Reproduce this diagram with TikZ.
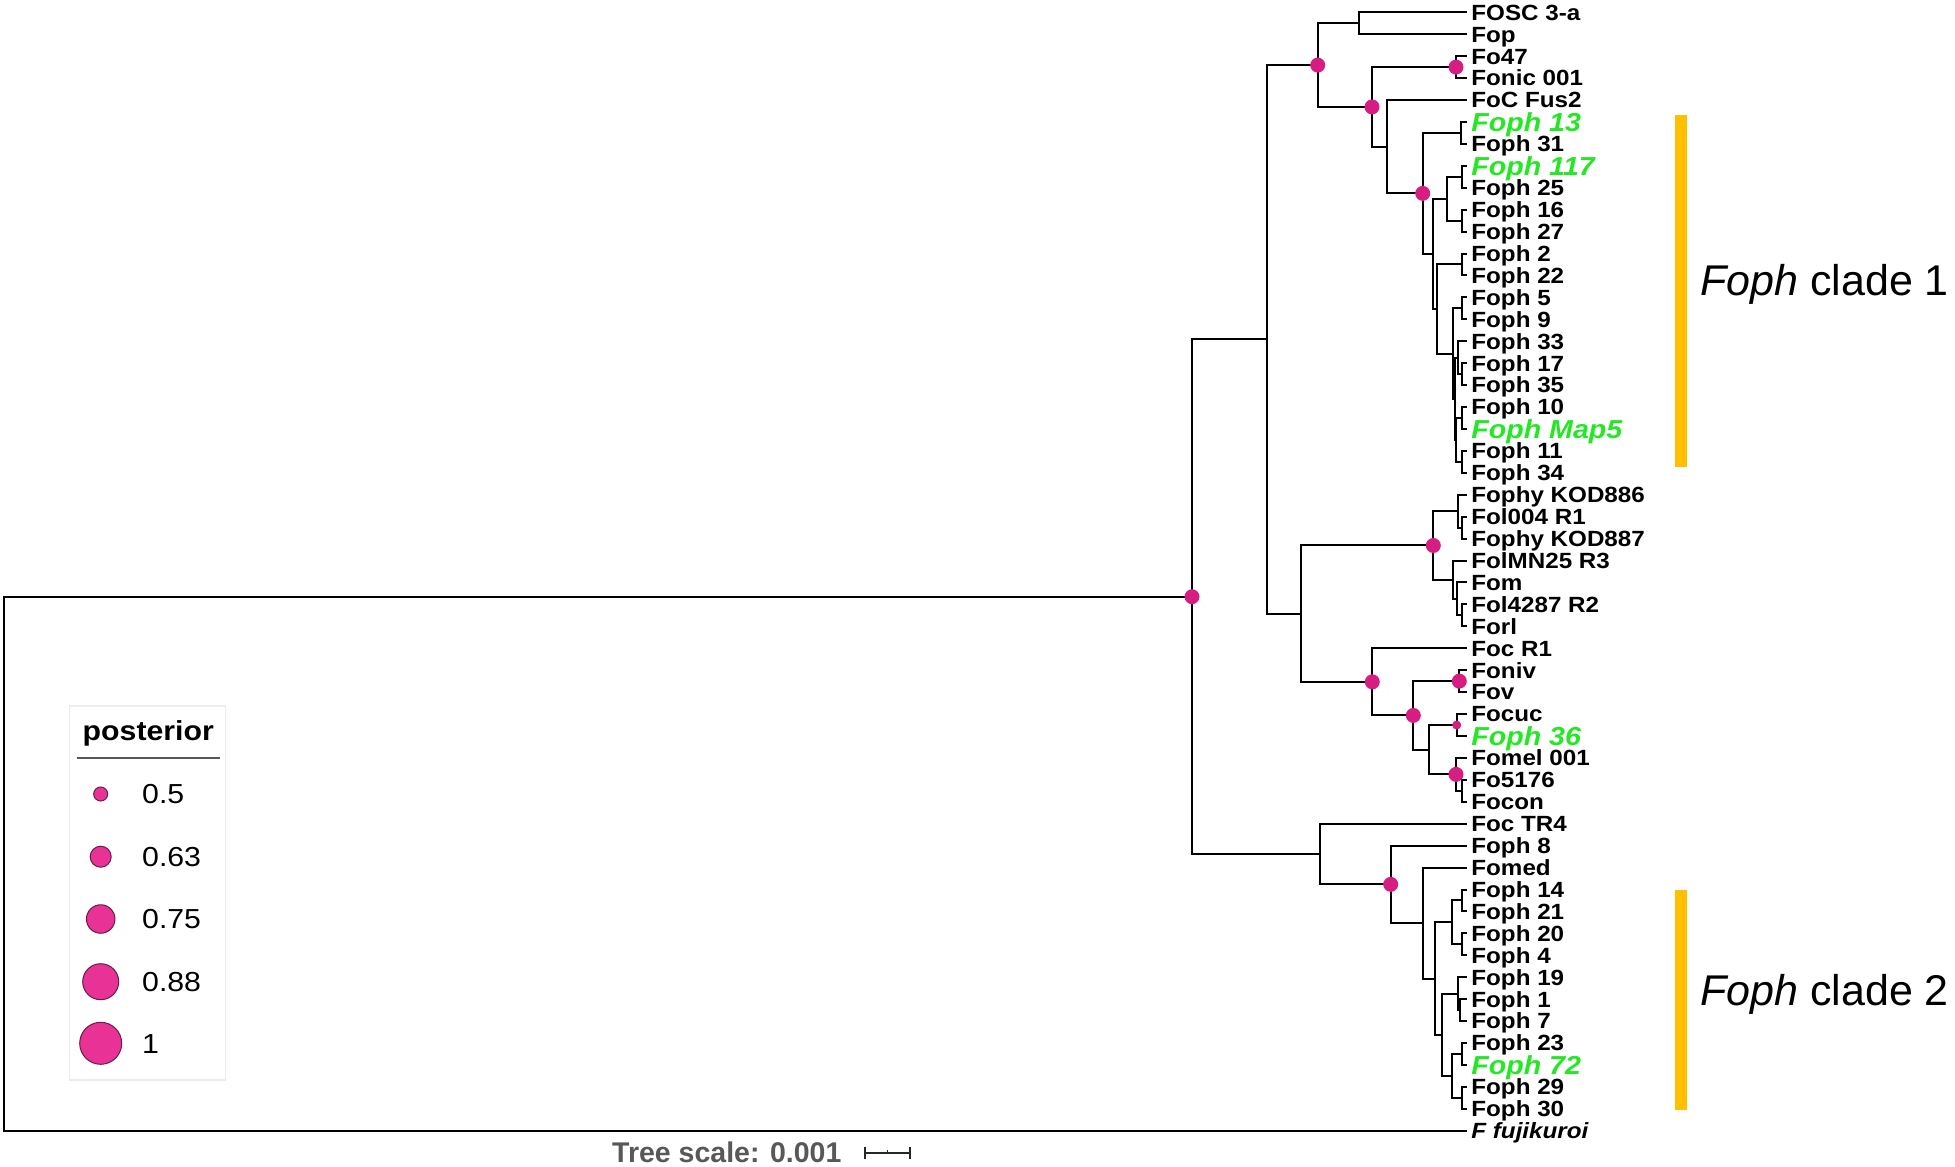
\documentclass[tikz,border=0pt]{standalone}
\usepackage{fontspec}
\setmainfont{Liberation Sans}
\newfontfamily\labfont[FakeStretch=1.1]{Liberation Sans}
\definecolor{dotc}{RGB}{214,30,130}
\definecolor{legfill}{RGB}{232,50,150}
\definecolor{legdraw}{RGB}{105,28,72}
\definecolor{gfgreen}{RGB}{36,232,36}
\definecolor{cladec}{RGB}{255,192,0}
\definecolor{scgray}{RGB}{88,88,88}
\newcommand\lfy[1]{12.3+21.93*(#1)}
\begin{document}
\begin{tikzpicture}[x=1pt,y=-1pt,
  edge/.style={line width=2pt,black},
  leaf/.style={anchor=west,inner xsep=4.5pt,inner ysep=0pt,text height=15.7pt,text depth=0pt,
    font=\labfont\bfseries\fontsize{22}{24}\selectfont},
  leafg/.style={leaf,text=gfgreen,text height=18.6pt,font=\labfont\bfseries\itshape\fontsize{26}{28}\selectfont},
  leafi/.style={leaf,font=\labfont\bfseries\itshape\fontsize{22}{24}\selectfont},
  dot/.style={circle,fill=dotc,inner sep=0pt,minimum size=15pt},
  sdot/.style={dot,minimum size=9pt},
  lcirc/.style={circle,fill=legfill,draw=legdraw,line width=1pt,inner sep=0pt},
  legt/.style={anchor=west,inner sep=0pt,text height=19.7pt,text depth=0pt,font=\labfont\fontsize{27.5}{30}\selectfont},
  cladebar/.style={fill=cladec,draw=none},
  cladet/.style={anchor=base west,inner sep=0pt,font=\fontsize{43}{48}\selectfont}]
\useasboundingbox (0,0) rectangle (1955,1167);

% ---------- leaves ----------
\node[leaf]  (L0)  at (1466.7,{\lfy{0}})  {FOSC 3-a};
\node[leaf]  (L1)  at (1466.7,{\lfy{1}})  {Fop};
\node[leaf]  (L2)  at (1466.7,{\lfy{2}})  {Fo47};
\node[leaf]  (L3)  at (1466.7,{\lfy{3}})  {Fonic 001};
\node[leaf]  (L4)  at (1466.7,{\lfy{4}})  {FoC Fus2};
\node[leafg] (L5)  at (1466.7,{\lfy{5}})  {Foph 13};
\node[leaf]  (L6)  at (1466.7,{\lfy{6}})  {Foph 31};
\node[leafg] (L7)  at (1466.7,{\lfy{7}})  {Foph 117};
\node[leaf]  (L8)  at (1466.7,{\lfy{8}})  {Foph 25};
\node[leaf]  (L9)  at (1466.7,{\lfy{9}})  {Foph 16};
\node[leaf]  (L10) at (1466.7,{\lfy{10}}) {Foph 27};
\node[leaf]  (L11) at (1466.7,{\lfy{11}}) {Foph 2};
\node[leaf]  (L12) at (1466.7,{\lfy{12}}) {Foph 22};
\node[leaf]  (L13) at (1466.7,{\lfy{13}}) {Foph 5};
\node[leaf]  (L14) at (1466.7,{\lfy{14}}) {Foph 9};
\node[leaf]  (L15) at (1466.7,{\lfy{15}}) {Foph 33};
\node[leaf]  (L16) at (1466.7,{\lfy{16}}) {Foph 17};
\node[leaf]  (L17) at (1466.7,{\lfy{17}}) {Foph 35};
\node[leaf]  (L18) at (1466.7,{\lfy{18}}) {Foph 10};
\node[leafg] (L19) at (1466.7,{\lfy{19}}) {Foph Map5};
\node[leaf]  (L20) at (1466.7,{\lfy{20}}) {Foph 11};
\node[leaf]  (L21) at (1466.7,{\lfy{21}}) {Foph 34};
\node[leaf]  (L22) at (1466.7,{\lfy{22}}) {Fophy KOD886};
\node[leaf]  (L23) at (1466.7,{\lfy{23}}) {Fol004 R1};
\node[leaf]  (L24) at (1466.7,{\lfy{24}}) {Fophy KOD887};
\node[leaf]  (L25) at (1466.7,{\lfy{25}}) {FolMN25 R3};
\node[leaf]  (L26) at (1466.7,{\lfy{26}}) {Fom};
\node[leaf]  (L27) at (1466.7,{\lfy{27}}) {Fol4287 R2};
\node[leaf]  (L28) at (1466.7,{\lfy{28}}) {Forl};
\node[leaf]  (L29) at (1466.7,{\lfy{29}}) {Foc R1};
\node[leaf]  (L30) at (1466.7,{\lfy{30}}) {Foniv};
\node[leaf]  (L31) at (1466.7,{\lfy{31}}) {Fov};
\node[leaf]  (L32) at (1466.7,{\lfy{32}}) {Focuc};
\node[leafg] (L33) at (1466.7,{\lfy{33}}) {Foph 36};
\node[leaf]  (L34) at (1466.7,{\lfy{34}}) {Fomel 001};
\node[leaf]  (L35) at (1466.7,{\lfy{35}}) {Fo5176};
\node[leaf]  (L36) at (1466.7,{\lfy{36}}) {Focon};
\node[leaf]  (L37) at (1466.7,{\lfy{37}}) {Foc TR4};
\node[leaf]  (L38) at (1466.7,{\lfy{38}}) {Foph 8};
\node[leaf]  (L39) at (1466.7,{\lfy{39}}) {Fomed};
\node[leaf]  (L40) at (1466.7,{\lfy{40}}) {Foph 14};
\node[leaf]  (L41) at (1466.7,{\lfy{41}}) {Foph 21};
\node[leaf]  (L42) at (1466.7,{\lfy{42}}) {Foph 20};
\node[leaf]  (L43) at (1466.7,{\lfy{43}}) {Foph 4};
\node[leaf]  (L44) at (1466.7,{\lfy{44}}) {Foph 19};
\node[leaf]  (L45) at (1466.7,{\lfy{45}}) {Foph 1};
\node[leaf]  (L46) at (1466.7,{\lfy{46}}) {Foph 7};
\node[leaf]  (L47) at (1466.7,{\lfy{47}}) {Foph 23};
\node[leafg] (L48) at (1466.7,{\lfy{48}}) {Foph 72};
\node[leaf]  (L49) at (1466.7,{\lfy{49}}) {Foph 29};
\node[leaf]  (L50) at (1466.7,{\lfy{50}}) {Foph 30};
\node[leafi] (L51) at (1466.7,{\lfy{51}}) {F fujikuroi};

% ---------- internal nodes ----------
\coordinate (nA)  at (1359,  {\lfy{0.5}});
\coordinate (nB)  at (1456,  {\lfy{2.5}});
\coordinate (nC)  at (1460.7,{\lfy{5.5}});
\coordinate (nD)  at (1461.7,{\lfy{7.5}});
\coordinate (nE)  at (1461.7,{\lfy{9.5}});
\coordinate (nF)  at (1447.3,{\lfy{8.5}});
\coordinate (nG)  at (1461.7,{\lfy{11.5}});
\coordinate (nH)  at (1461.7,{\lfy{13.5}});
\coordinate (nI)  at (1461.7,{\lfy{16.5}});
\coordinate (nJ)  at (1458.3,{\lfy{15.75}});
\coordinate (nK)  at (1461.7,{\lfy{18.5}});
\coordinate (nL)  at (1461.7,{\lfy{20.5}});
\coordinate (nM)  at (1456,  {\lfy{19.5}});
\coordinate (nN)  at (1454.5,{\lfy{17.625}});
\coordinate (nO)  at (1453.3,{\lfy{15.5625}});
\coordinate (nP)  at (1437.3,{\lfy{13.53125}});
\coordinate (nQ)  at (1432.7,{\lfy{11.015625}});
\coordinate (nR)  at (1422.7,{\lfy{8.2578}});
\coordinate (nS)  at (1386.7,{\lfy{6.1289}});
\coordinate (nT)  at (1372,  {\lfy{4.3145}});
\coordinate (nU)  at (1317.7,{\lfy{2.4072}});
\coordinate (nV)  at (1461.7,{\lfy{23.5}});
\coordinate (nW)  at (1458.3,{\lfy{22.75}});
\coordinate (nX)  at (1461.7,{\lfy{27.5}});
\coordinate (nY)  at (1456.7,{\lfy{26.75}});
\coordinate (nZ)  at (1453.3,{\lfy{25.875}});
\coordinate (nAA) at (1433.3,{\lfy{24.3125}});
\coordinate (nAB) at (1459.3,{\lfy{30.5}});
\coordinate (nAC) at (1456.7,{\lfy{32.5}});
\coordinate (nAD) at (1461.7,{\lfy{35.5}});
\coordinate (nAE) at (1456,  {\lfy{34.75}});
\coordinate (nAF) at (1429.3,{\lfy{33.625}});
\coordinate (nAG) at (1413.3,{\lfy{32.0625}});
\coordinate (nAH) at (1372.3,{\lfy{30.53125}});
\coordinate (nAI) at (1301,  {\lfy{27.421875}});
\coordinate (nAJ) at (1266.7,{\lfy{14.9145}});
\coordinate (nAK) at (1461.7,{\lfy{40.5}});
\coordinate (nAL) at (1461.7,{\lfy{42.5}});
\coordinate (nAM) at (1451.7,{\lfy{41.5}});
\coordinate (nAN) at (1460,  {\lfy{45.5}});
\coordinate (nAO) at (1458.3,{\lfy{44.75}});
\coordinate (nAP) at (1461.7,{\lfy{47.5}});
\coordinate (nAQ) at (1461.7,{\lfy{49.5}});
\coordinate (nAR) at (1452.3,{\lfy{48.5}});
\coordinate (nAS) at (1442.3,{\lfy{46.625}});
\coordinate (nAT) at (1435,  {\lfy{44.0625}});
\coordinate (nAU) at (1423.3,{\lfy{41.53125}});
\coordinate (nAV) at (1390.7,{\lfy{39.765625}});
\coordinate (nAW) at (1320,  {\lfy{38.3828}});
\coordinate (nRt) at (1192,  {\lfy{26.6487}});
\coordinate (nOut) at (3.5,  {\lfy{38.82}});

% ---------- edges ----------
\draw[edge] (nA) |- (L0.west) (nA) |- (L1.west);
\draw[edge] (nB) |- (L2.west) (nB) |- (L3.west);
\draw[edge] (nC) |- (L5.west) (nC) |- (L6.west);
\draw[edge] (nD) |- (L7.west) (nD) |- (L8.west);
\draw[edge] (nE) |- (L9.west) (nE) |- (L10.west);
\draw[edge] (nF) |- (nD) (nF) |- (nE);
\draw[edge] (nG) |- (L11.west) (nG) |- (L12.west);
\draw[edge] (nH) |- (L13.west) (nH) |- (L14.west);
\draw[edge] (nI) |- (L16.west) (nI) |- (L17.west);
\draw[edge] (nJ) |- (L15.west) (nJ) |- (nI);
\draw[edge] (nK) |- (L18.west) (nK) |- (L19.west);
\draw[edge] (nL) |- (L20.west) (nL) |- (L21.west);
\draw[edge] (nM) |- (nK) (nM) |- (nL);
\draw[edge] (nN) |- (nJ) (nN) |- (nM);
\draw[edge] (nO) |- (nH) (nO) |- (nN);
\draw[edge] (nP) |- (nG) (nP) |- (nO);
\draw[edge] (nQ) |- (nF) (nQ) |- (nP);
\draw[edge] (nR) |- (nC) (nR) |- (nQ);
\draw[edge] (nS) |- (L4.west) (nS) |- (nR);
\draw[edge] (nT) |- (nB) (nT) |- (nS);
\draw[edge] (nU) |- (nA) (nU) |- (nT);
\draw[edge] (nV) |- (L23.west) (nV) |- (L24.west);
\draw[edge] (nW) |- (L22.west) (nW) |- (nV);
\draw[edge] (nX) |- (L27.west) (nX) |- (L28.west);
\draw[edge] (nY) |- (L26.west) (nY) |- (nX);
\draw[edge] (nZ) |- (L25.west) (nZ) |- (nY);
\draw[edge] (nAA) |- (nW) (nAA) |- (nZ);
\draw[edge] (nAB) |- (L30.west) (nAB) |- (L31.west);
\draw[edge] (nAC) |- (L32.west) (nAC) |- (L33.west);
\draw[edge] (nAD) |- (L35.west) (nAD) |- (L36.west);
\draw[edge] (nAE) |- (L34.west) (nAE) |- (nAD);
\draw[edge] (nAF) |- (nAC) (nAF) |- (nAE);
\draw[edge] (nAG) |- (nAB) (nAG) |- (nAF);
\draw[edge] (nAH) |- (L29.west) (nAH) |- (nAG);
\draw[edge] (nAI) |- (nAA) (nAI) |- (nAH);
\draw[edge] (nAJ) |- (nU) (nAJ) |- (nAI);
\draw[edge] (nAK) |- (L40.west) (nAK) |- (L41.west);
\draw[edge] (nAL) |- (L42.west) (nAL) |- (L43.west);
\draw[edge] (nAM) |- (nAK) (nAM) |- (nAL);
\draw[edge] (nAN) |- (L45.west) (nAN) |- (L46.west);
\draw[edge] (nAO) |- (L44.west) (nAO) |- (nAN);
\draw[edge] (nAP) |- (L47.west) (nAP) |- (L48.west);
\draw[edge] (nAQ) |- (L49.west) (nAQ) |- (L50.west);
\draw[edge] (nAR) |- (nAP) (nAR) |- (nAQ);
\draw[edge] (nAS) |- (nAO) (nAS) |- (nAR);
\draw[edge] (nAT) |- (nAM) (nAT) |- (nAS);
\draw[edge] (nAU) |- (L39.west) (nAU) |- (nAT);
\draw[edge] (nAV) |- (L38.west) (nAV) |- (nAU);
\draw[edge] (nAW) |- (L37.west) (nAW) |- (nAV);
\draw[edge] (nRt) |- (nAJ) (nRt) |- (nAW);
\draw[edge] (nOut) |- (nRt) (nOut) |- (L51.west);

% ---------- posterior dots ----------
\node[dot]  (dU)  at (nU)  {};
\node[dot]  (dB)  at (nB)  {};
\node[dot]  (dT)  at (nT)  {};
\node[dot]  (dR)  at (nR)  {};
\node[dot]  (dAA) at (nAA) {};
\node[dot]  (dAH) at (nAH) {};
\node[dot]  (dAB) at (nAB) {};
\node[dot]  (dAG) at (nAG) {};
\node[sdot] (dAC) at (nAC) {};
\node[dot]  (dAE) at (nAE) {};
\node[dot]  (dAV) at (nAV) {};
\node[dot]  (dRt) at (nRt) {};

% ---------- clade bars ----------
\path[cladebar] (1675,115) rectangle (1687,467);
\path[cladebar] (1675,890) rectangle (1687,1110);
\node[cladet] (cl1) at (1700,295)  {\textit{Foph} clade 1};
\node[cladet] (cl2) at (1700,1005) {\textit{Foph} clade 2};

% ---------- legend ----------
\node[draw={rgb,255:red,236;green,236;blue,236},line width=1.2pt,fill=white,
      minimum width=156pt,minimum height=374pt,inner sep=0pt] (legend) at (147.5,893) {};
\node[anchor=base,inner sep=0pt,font=\labfont\bfseries\fontsize{27.5}{30}\selectfont] (postt) at (148.3,740) {posterior};
\draw[line width=1.4pt,scgray] (76.7,758) -- (220,758);
\node[lcirc,minimum size=14pt] (c1) at (100.7,794)    {};
\node[lcirc,minimum size=21pt] (c2) at (100.7,856.7)  {};
\node[lcirc,minimum size=28.5pt] (c3) at (100.7,919)  {};
\node[lcirc,minimum size=36pt] (c4) at (100.7,981.7)  {};
\node[lcirc,minimum size=42pt] (c5) at (100.7,1043.3) {};
\node[legt] (t1) at (142,794)    {0.5};
\node[legt] (t2) at (142,856.7)  {0.63};
\node[legt] (t3) at (142,919)    {0.75};
\node[legt] (t4) at (142,981.7)  {0.88};
\node[legt] (t5) at (142,1043.3) {1};

% ---------- tree scale ----------
\node[anchor=base west,inner sep=0pt,text=scgray,font=\bfseries\fontsize{28.5}{30}\selectfont] (ts) at (612,1162.5) {Tree scale: 0.001};
\coordinate (sbL) at (865,1153.3);
\coordinate (sbR) at (910,1153.3);
\coordinate (sbM) at (887.3,1153.3);
\draw[line width=2pt,black!85] (sbL) -- (sbR);
\draw[line width=2pt,black!85] ([yshift=-6pt]sbL) -- ([yshift=6pt]sbL);
\draw[line width=2pt,black!85] ([yshift=-6pt]sbR) -- ([yshift=6pt]sbR);
\draw[line width=1.5pt,black!85] (sbM) -- ([yshift=3.5pt]sbM);
\end{tikzpicture}
\end{document}
